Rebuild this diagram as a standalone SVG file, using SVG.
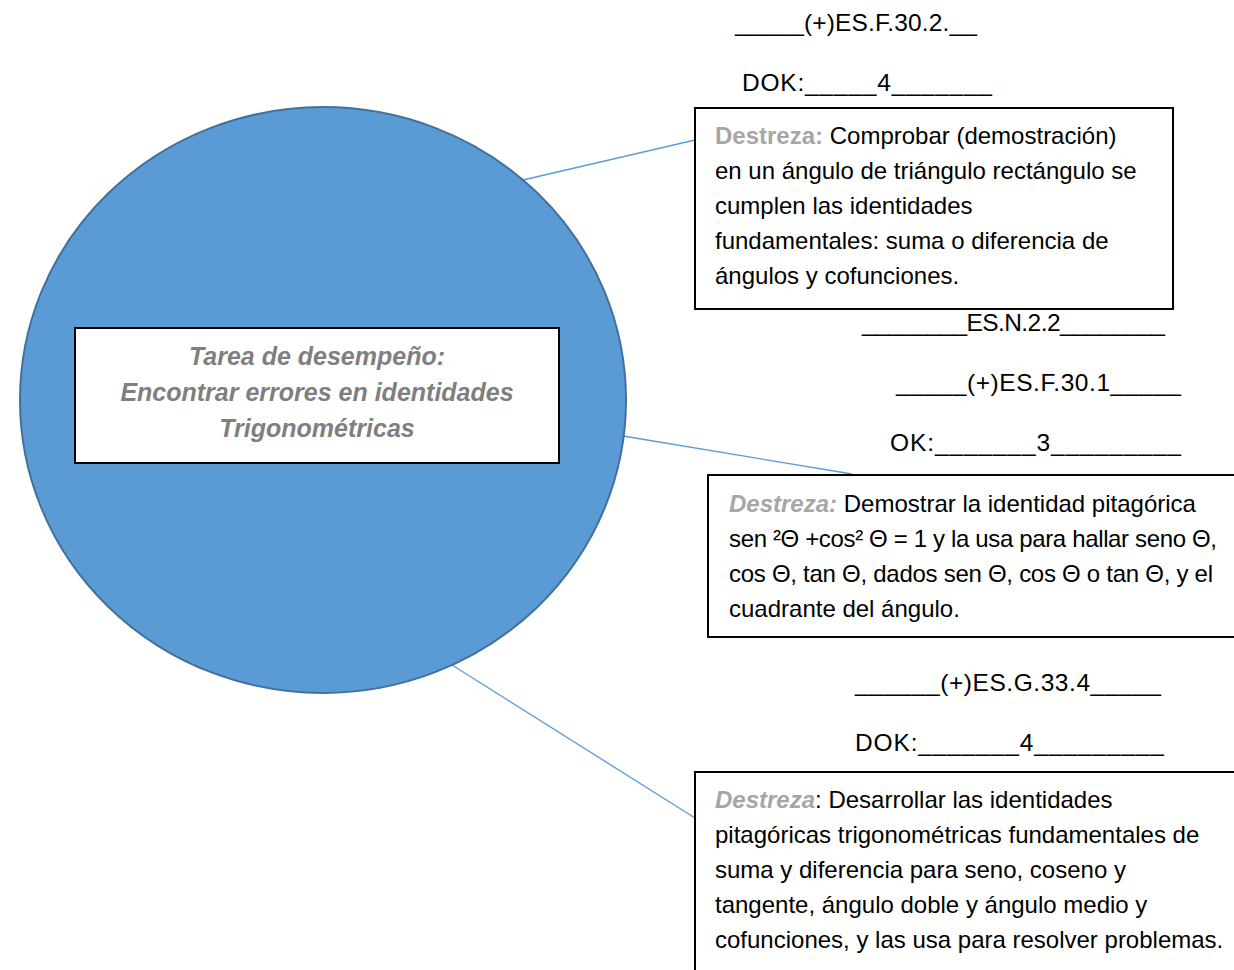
<svg xmlns="http://www.w3.org/2000/svg" width="1234" height="970" viewBox="0 0 1234 970">
<style>
text{font-family:"Liberation Sans","Open Sans",sans-serif;font-size:24px;fill:#000}
.lbl{font-size:24.5px}
.d{fill:#A6A6A6;font-weight:bold}
.di{fill:#A6A6A6;font-weight:bold;font-style:italic}
.box{fill:#fff;stroke:#000;stroke-width:2}
.conn{stroke:#5B9BD5;stroke-width:1.3;fill:none}
.title{font-weight:bold;font-style:italic;fill:#7F7F7F;font-size:25px;text-anchor:middle}
</style>
<rect width="1234" height="970" fill="#fff"/>
<g id="connectors">
<line class="conn" x1="523" y1="180" x2="695" y2="140"/>
<line class="conn" x1="623" y1="436" x2="852" y2="474"/>
<line class="conn" x1="452" y1="665" x2="695" y2="818"/>
</g>
<g id="main">
<ellipse cx="323" cy="400" rx="303" ry="293" fill="#5B9BD5" stroke="#41719C" stroke-width="2"/>
<rect class="box" x="75" y="328" width="484" height="135"/>
<text class="title" x="317" y="365">Tarea de desempeño:</text>
<text class="title" x="317" y="401">Encontrar errores en identidades</text>
<text class="title" x="317" y="437">Trigonométricas</text>
</g>
<g id="labels1">
<text class="lbl" x="735" y="31" textLength="242" lengthAdjust="spacing">_____(+)ES.F.30.2.__</text>
<text class="lbl" x="742" y="91" textLength="250" lengthAdjust="spacing">DOK:_____4_______</text>
</g>
<g id="box1">
<rect class="box" x="695" y="108" width="478" height="201"/>
<text x="715" y="144"><tspan class="d">Destreza:</tspan> Comprobar (demostración)</text>
<text x="715" y="179">en un ángulo de triángulo rectángulo se</text>
<text x="715" y="214">cumplen las identidades</text>
<text x="715" y="249">fundamentales: suma o diferencia de</text>
<text x="715" y="284">ángulos y cofunciones.</text>
</g>
<g id="labels2">
<text class="lbl" x="862" y="331" textLength="303" lengthAdjust="spacing">________ES.N.2.2________</text>
<text class="lbl" x="896" y="391" textLength="285" lengthAdjust="spacing">_____(+)ES.F.30.1_____</text>
<text class="lbl" x="890" y="451" textLength="291" lengthAdjust="spacing">OK:_______3_________</text>
</g>
<g id="box2">
<rect class="box" x="708" y="475" width="540" height="162"/>
<text x="729" y="512"><tspan class="di">Destreza:</tspan> Demostrar la identidad pitagórica</text>
<text x="729" y="547" textLength="488" lengthAdjust="spacing">sen ²Θ +cos² Θ = 1 y la usa para hallar seno Θ,</text>
<text x="729" y="582" textLength="484" lengthAdjust="spacing">cos Θ, tan Θ, dados sen Θ, cos Θ o tan Θ, y el</text>
<text x="729" y="617">cuadrante del ángulo.</text>
</g>
<g id="labels3">
<text class="lbl" x="855" y="691" textLength="306" lengthAdjust="spacing">______(+)ES.G.33.4_____</text>
<text class="lbl" x="855" y="751" textLength="309" lengthAdjust="spacing">DOK:_______4_________</text>
</g>
<g id="box3">
<rect class="box" x="695" y="772" width="560" height="220"/>
<text x="715" y="808"><tspan class="di">Destreza</tspan>: Desarrollar las identidades</text>
<text x="715" y="843">pitagóricas trigonométricas fundamentales de</text>
<text x="715" y="878">suma y diferencia para seno, coseno y</text>
<text x="715" y="913">tangente, ángulo doble y ángulo medio y</text>
<text x="715" y="948">cofunciones, y las usa para resolver problemas.</text>
</g>
</svg>
